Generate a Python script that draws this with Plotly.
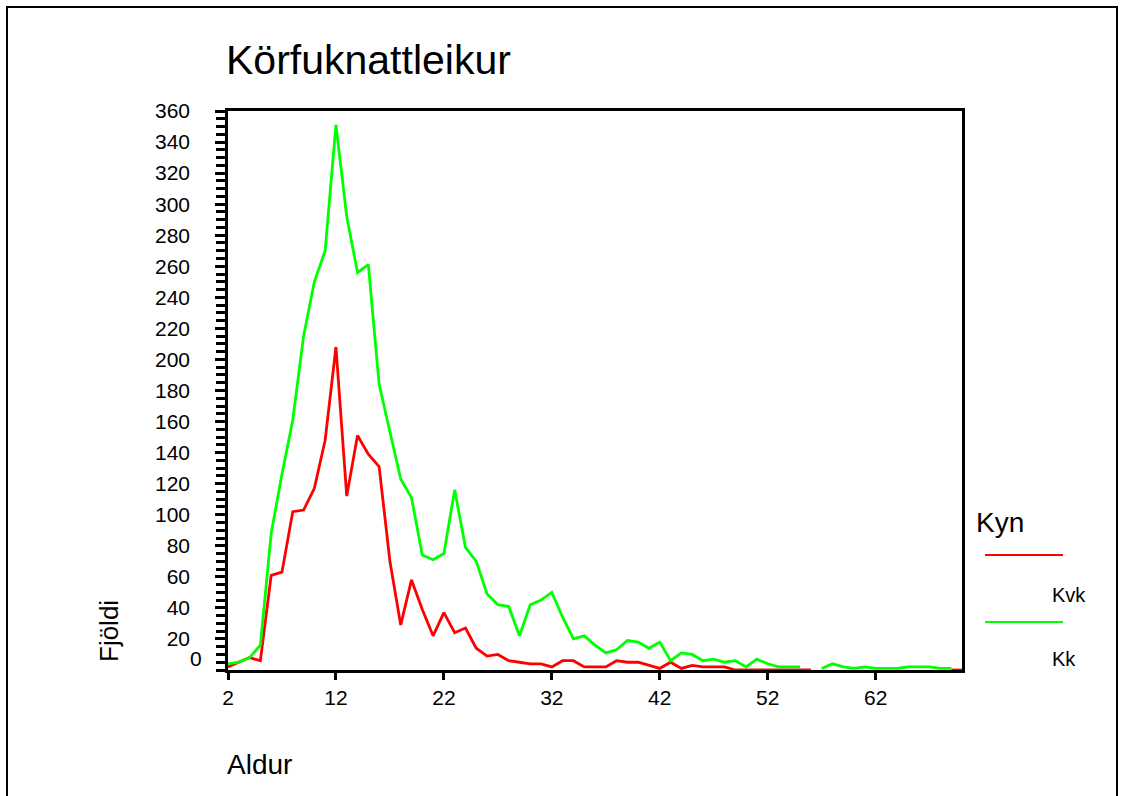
import plotly.graph_objects as go

# ---- data ----
ages = list(range(2, 71))
kvk = [2, 5, 8, 6, 61, 63, 102, 103, 117, 148, 208, 112, 151, 139, 131, 70, 29, 58, 39, 22,
       37, 24, 27, 14, 9, 10, 6, 5, 4, 4, 2, 6, 6, 2, 2, 2, 6, 5, 5, 3,
       1, 5, 1, 3, 2, 2, 2, 0, 0, 0, 0, 0, 0, 0, 0,
       None, None, None, None, None, None, None, None, None, None, None, None, 0, 0]
kk = [4, 5, 8, 16, 88, 126, 161, 215, 250, 270, 351, 292, 256, 261, 184, 153, 123, 111, 74, 71,
      75, 116, 79, 70, 49, 42, 41, 22, 42, 45, 50, 34, 20, 22, 16, 11, 13, 19, 18, 14,
      18, 6, 11, 10, 6, 7, 5, 6, 2, 7, 4, 2, 2, 2, None,
      1, 4, 2, 1, 2, 1, 1, 1, 2, 2, 2, 1, 1, None]
series_names = ["Kvk", "Kk"]
series_colors = ["#ff0000", "#00ff00"]
title_text = "Körfuknattleikur"
x_title = "Aldur"
y_title = "Fjöldi"
legend_title = "Kyn"
x_ticks = [2, 12, 22, 32, 42, 52, 62]
y_ticks = list(range(20, 361, 20))
zero_label = "0"

# ---- geometry ----
W, H = 1124, 796
L, R, T, B = 228, 162, 111, 126
PW, PH = W - L - R, H - T - B
FONT = "Liberation Sans, Arial, sans-serif"


def px(x):
    return (x - L) / PW


def py(y):
    return (H - B - y) / PH


fig = go.Figure()
for name, vals, col in zip(series_names, [kvk, kk], series_colors):
    fig.add_trace(go.Scatter(x=ages, y=vals, mode="lines", name=name,
                             line=dict(color=col, width=2.8), connectgaps=False,
                             showlegend=False))

fig.update_layout(
    width=W, height=H,
    margin=dict(l=L, r=R, t=T, b=B, pad=0),
    paper_bgcolor="white", plot_bgcolor="white",
    font=dict(family=FONT, color="black", size=21),
    showlegend=False,
)
fig.update_xaxes(range=[2, 70], tickvals=x_ticks, ticks="outside", ticklen=7, tickwidth=2.5,
                 tickcolor="black", showline=True, linecolor="black", linewidth=2.5, mirror=True,
                 showgrid=False, zeroline=False, tickfont=dict(size=21), layer="below traces")
fig.update_yaxes(range=[0, 360], tickvals=y_ticks, ticks="outside", ticklen=10, tickwidth=2.5,
                 tickcolor="black", showline=True, linecolor="black", linewidth=2.5, mirror=True,
                 showgrid=False, zeroline=False, tickfont=dict(size=21), ticklabelstandoff=21,
                 minor=dict(dtick=5, tick0=0, ticks="outside", ticklen=9, tickwidth=2.5,
                            tickcolor="black", showgrid=False),
                 layer="below traces")

ann = []
ann.append(dict(text=title_text, x=px(224), y=py(60), xref="paper", yref="paper",
                xanchor="left", yanchor="middle", showarrow=False, font=dict(size=41)))
ann.append(dict(text=x_title, x=px(225), y=py(764), xref="paper", yref="paper",
                xanchor="left", yanchor="middle", showarrow=False, font=dict(size=28)))
ann.append(dict(text=y_title, x=px(109), y=py(664), xref="paper", yref="paper",
                xanchor="center", yanchor="bottom", textangle=-90, showarrow=False,
                font=dict(size=26)))
ann.append(dict(text=zero_label, x=px(204), y=py(658), xref="paper", yref="paper",
                xanchor="right", yanchor="middle", showarrow=False, font=dict(size=21)))
ann.append(dict(text=legend_title, x=px(974), y=py(522), xref="paper", yref="paper",
                xanchor="left", yanchor="middle", showarrow=False, font=dict(size=28)))

shapes = []
leg_line_y = [555, 622]
leg_text_y = [595, 659]
for name, col, ly, ty in zip(series_names, series_colors, leg_line_y, leg_text_y):
    shapes.append(dict(type="line", xref="paper", yref="paper", x0=px(985), x1=px(1063),
                       y0=py(ly), y1=py(ly), line=dict(color=col, width=2)))
    ann.append(dict(text=name, x=px(1050), y=py(ty), xref="paper", yref="paper",
                    xanchor="left", yanchor="middle", showarrow=False, font=dict(size=20)))

# outer frame
shapes.append(dict(type="rect", xref="paper", yref="paper", x0=px(7), x1=px(1117),
                   y0=py(810), y1=py(7), line=dict(color="black", width=2),
                   fillcolor="rgba(0,0,0,0)", layer="below"))

fig.update_layout(annotations=ann, shapes=shapes)
fig.write_html("out.html", config={"displayModeBar": False},
               post_script="document.body.style.margin='0';")
